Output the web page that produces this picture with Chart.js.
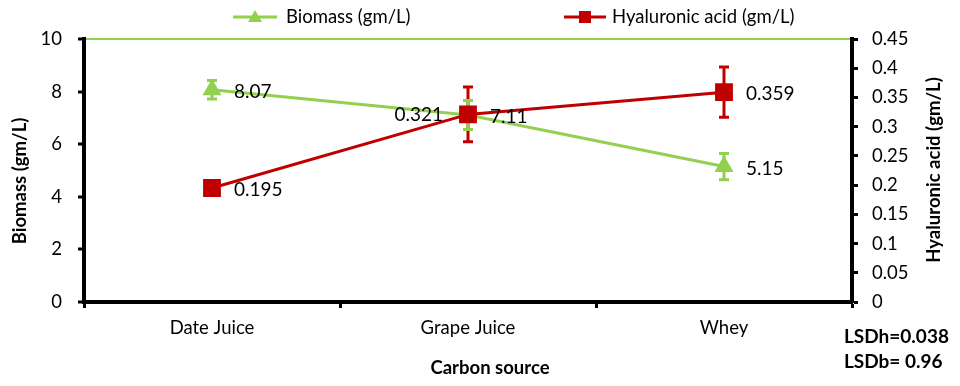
<!DOCTYPE html>
<html lang="en">
<head>
  <meta charset="UTF-8" />
  <title>Biomass and hyaluronic acid by carbon source</title>
  <script src="https://cdn.jsdelivr.net/npm/chart.js"></script>
  <style>
    body { margin: 0; padding: 0; background: #fff; }
    #chart { display: block; }
  </style>
</head>
<body>
  <canvas id="chart" width="960" height="386"></canvas>

  <script>
    // data
    const categories = ['Date Juice', 'Grape Juice', 'Whey'];
    const biomass = [8.07, 7.11, 5.15];
    const biomassErr = [0.35, 0.55, 0.5];
    const hyaluronic = [0.195, 0.321, 0.359];
    const hyaluronicErr = [0.01, 0.047, 0.043];
    const biomassLabels = ['8.07', '7.11', '5.15'];
    const hyaluronicLabels = ['0.195', '0.321', '0.359'];
    const leftTicks = [0, 2, 4, 6, 8, 10];
    const rightTicks = [0, 0.05, 0.1, 0.15, 0.2, 0.25, 0.3, 0.35, 0.4, 0.45];
    const axisTitles = { x: 'Carbon source', y: 'Biomass (gm/L)', y2: 'Hyaluronic acid (gm/L)' };
    const lsdNotes = ['LSDh=0.038', 'LSDb= 0.96'];

    const GREEN = '#92d050';
    const RED = '#c00000';
    const FONT = 'Lato';

    // error bars, value labels, legend, axis titles and LSD notes
    const extras = {
      id: 'extras',
      beforeDatasetsDraw(chart) {
        const ctx = chart.ctx;
        chart.data.datasets.forEach((ds, i) => {
          const meta = chart.getDatasetMeta(i);
          const yScale = chart.scales[ds.yAxisID];
          ctx.save();
          ctx.strokeStyle = ds.borderColor;
          ctx.lineWidth = 3;
          meta.data.forEach((pt, j) => {
            const e = ds.errors[j];
            const top = yScale.getPixelForValue(ds.data[j] + e);
            const bot = yScale.getPixelForValue(ds.data[j] - e);
            ctx.beginPath();
            ctx.moveTo(pt.x, top); ctx.lineTo(pt.x, bot);
            ctx.moveTo(pt.x - 5, top); ctx.lineTo(pt.x + 5, top);
            ctx.moveTo(pt.x - 5, bot); ctx.lineTo(pt.x + 5, bot);
            ctx.stroke();
          });
          ctx.restore();
        });
      },
      afterDatasetsDraw(chart) {
        const ctx = chart.ctx;
        ctx.save();
        ctx.font = '19px ' + FONT;
        ctx.fillStyle = '#000';
        ctx.textBaseline = 'middle';
        chart.data.datasets.forEach((ds, i) => {
          const meta = chart.getDatasetMeta(i);
          meta.data.forEach((pt, j) => {
            if (ds.labelSide[j] === 'left') {
              ctx.textAlign = 'right';
              ctx.fillText(ds.valueLabels[j], pt.x - 25, pt.y);
            } else {
              ctx.textAlign = 'left';
              ctx.fillText(ds.valueLabels[j], pt.x + 22, pt.y + 2);
            }
          });
        });
        ctx.restore();
      },
      afterDraw(chart) {
        const ctx = chart.ctx;
        ctx.save();
        // legend
        const y = 17;
        ctx.lineWidth = 3;
        ctx.strokeStyle = GREEN;
        ctx.beginPath(); ctx.moveTo(233, y); ctx.lineTo(277, y); ctx.stroke();
        ctx.fillStyle = GREEN;
        ctx.beginPath(); ctx.moveTo(255, y - 7); ctx.lineTo(262, y + 5); ctx.lineTo(248, y + 5); ctx.closePath(); ctx.fill();
        ctx.strokeStyle = RED;
        ctx.beginPath(); ctx.moveTo(564, y); ctx.lineTo(606, y); ctx.stroke();
        ctx.fillStyle = RED;
        ctx.fillRect(579, y - 6, 12, 12);
        ctx.fillStyle = '#000';
        ctx.font = '18.5px ' + FONT;
        ctx.textBaseline = 'middle';
        ctx.textAlign = 'left';
        ctx.fillText(chart.data.datasets[1].label, 286, y);
        ctx.fillText(chart.data.datasets[0].label, 612, y);

        // axis titles
        ctx.font = 'bold 18.5px ' + FONT;
        ctx.textAlign = 'center';
        ctx.fillText(axisTitles.x, 490, 368);
        ctx.save();
        ctx.translate(20, 181);
        ctx.rotate(-Math.PI / 2);
        ctx.fillText(axisTitles.y, 0, 0);
        ctx.restore();
        ctx.save();
        ctx.translate(934, 170);
        ctx.rotate(-Math.PI / 2);
        ctx.fillText(axisTitles.y2, 0, 0);
        ctx.restore();

        // LSD notes
        ctx.textAlign = 'left';
        ctx.font = 'bold 19px ' + FONT;
        ctx.fillText(lsdNotes[0], 844, 337);
        ctx.fillText(lsdNotes[1], 844, 362);
        ctx.restore();
      }
    };

    const ctx = document.getElementById('chart').getContext('2d');
    new Chart(ctx, {
      type: 'line',
      data: {
        labels: categories,
        datasets: [{
          label: 'Hyaluronic acid (gm/L)',
          data: hyaluronic,
          errors: hyaluronicErr,
          valueLabels: hyaluronicLabels,
          labelSide: ['right', 'left', 'right'],
          yAxisID: 'y2',
          borderColor: RED,
          backgroundColor: RED,
          borderWidth: 3,
          pointStyle: 'rect',
          pointRadius: 10.5,
          tension: 0,
          order: 0
        }, {
          label: 'Biomass (gm/L)',
          data: biomass,
          errors: biomassErr,
          valueLabels: biomassLabels,
          labelSide: ['right', 'right', 'right'],
          yAxisID: 'y',
          borderColor: GREEN,
          backgroundColor: GREEN,
          borderWidth: 3,
          pointStyle: 'triangle',
          pointRadius: 8,
          tension: 0,
          order: 1
        }]
      },
      options: {
        responsive: false,
        animation: false,
        layout: { padding: { top: 39, left: 0, right: 0, bottom: 0 } },
        plugins: {
          legend: { display: false },
          tooltip: { enabled: false }
        },
        scales: {
          x: {
            type: 'category',
            offset: true,
            afterFit: s => { s.height = 84; },
            grid: { offset: true, drawOnChartArea: false, tickLength: 6, tickColor: '#000', tickWidth: 3 },
            border: { color: '#000', width: 4 },
            ticks: { color: '#000', font: { family: FONT, size: 18.5 }, padding: 9, maxRotation: 0 }
          },
          y: {
            position: 'left',
            min: 0,
            max: 10,
            afterFit: s => { s.width = 84; },
            afterBuildTicks: s => { s.ticks = leftTicks.map(v => ({ value: v })); },
            grid: {
              drawOnChartArea: true,
              color: c => (c.tick && c.tick.value === 10) ? GREEN : 'rgba(0,0,0,0)',
              lineWidth: 2,
              tickLength: 6, tickColor: '#000', tickWidth: 3
            },
            border: { color: '#000', width: 4 },
            ticks: { color: '#000', font: { family: FONT, size: 18.5 }, padding: 16 }
          },
          y2: {
            position: 'right',
            min: 0,
            max: 0.45,
            afterFit: s => { s.width = 108; },
            afterBuildTicks: s => { s.ticks = rightTicks.map(v => ({ value: v })); },
            grid: { drawOnChartArea: false, tickLength: 6, tickColor: '#000', tickWidth: 3 },
            border: { color: '#000', width: 4 },
            ticks: { color: '#000', font: { family: FONT, size: 18.5 }, padding: 14, callback: v => String(+v.toFixed(2)) }
          }
        }
      },
      plugins: [extras]
    });
  </script>
</body>
</html>
